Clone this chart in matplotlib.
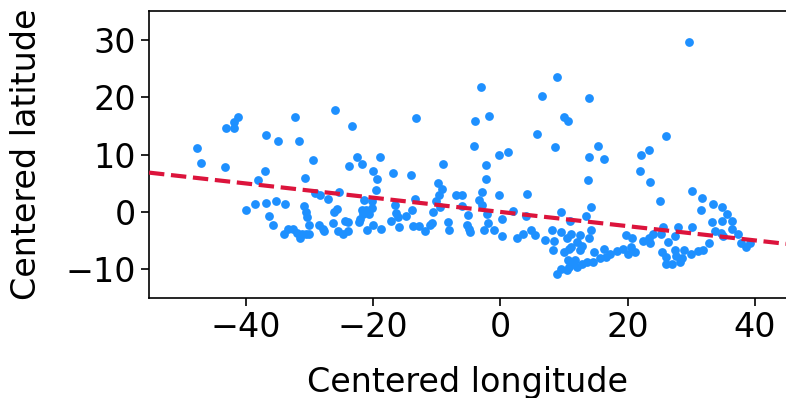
import matplotlib
matplotlib.use("Agg")
import matplotlib.pyplot as plt
import numpy as np

# centred coordinates
lon = [
    -47.6, -47.1, -43.1, -41.8, -41.8, -41.2, -43.2, -36.8, -35.0, -32.2,
    -31.6, -37.0, -38.1, -29.5, -25.9, -30.7, -40.0, -38.5, -36.8, -35.3,
    -33.9, -36.3, -35.7, -30.9, -30.6, -30.3, -30.1, -34.0, -33.3, -32.6,
    -32.0, -31.5, -31.1, -30.6, -30.0, -28.5, -27.7, -27.9, -27.0, -25.4,
    -29.1, -28.3, -26.2, -25.7, -26.3, -25.5,
    -23.3, -13.2, -22.5, -21.8, -23.8, -18.9, -20.0, -19.3, -19.5, -16.8,
    -14.0, -9.0, -9.8, -9.2, -9.6, -10.1, -9.4, -10.5, -13.4, -13.9,
    -7.0, -6.0, -6.0, -8.2, -8.1, -10.8, -11.9, -12.7, -13.7, -14.8,
    -15.9, -16.0, -16.4, -16.5, -17.2, -18.8, -20.0, -20.9, -22.2, -20.1,
    -20.1, -20.7, -21.1, -21.4, -21.8, -21.6, -24.4, -23.9, -24.7, -23.9,
    -11.1, -22.0,
    -4.0, -3.0, -1.7, -4.1, 6.6, 8.9, 5.7, 8.6, -2.2, -2.3,
    -2.8, -0.2, 1.2, -0.2, 4.2, -3.3, -2.8, -5.1, -5.2, -4.9,
    -4.8, -2.1, -1.9, -2.6, -1.0, 0.2, 0.3, 2.0, 4.0, 2.7,
    3.6, 4.9, 5.5, 7.1, 8.2, 8.5, 8.3, 9.5, 9.5, 10.0,
    10.5, 10.8, 10.6, 9.5, 8.9, 10.5, 11.0,
    13.9, 10.0, 10.7, 15.4, 14.0, 16.3, 13.8, 14.3, 13.4, 11.1,
    12.6, 14.0, 14.2, 12.1, 11.1, 12.8, 14.7, 16.3, 19.7, 20.7,
    20.5, 19.3, 18.3, 17.3, 16.6, 15.7, 14.6, 13.7, 12.9, 11.8,
    11.3, 12.1, 10.8, 20.1, 21.2, 22.4, 23.4, 23.6, 24.0, 25.5,
    25.2, 26.3, 25.4, 26.0, 26.0, 27.0, 27.4, 27.4, 21.9, 22.1,
    23.4, 23.5, 26.1, 29.6, 25.1, 12.5, 27.6, 28.5, 28.9, 29.9,
    31.1, 31.9, 28.3, 27.9, 30.1, 30.2, 31.7, 31.6, 33.5, 33.3,
    33.8, 32.8, 34.9, 35.7, 34.9, 36.4, 36.4, 34.7, 35.0, 37.4,
    37.9, 38.6, 39.2,
]
lat = [
    11.2, 8.5, 14.6, 14.6, 15.6, 16.6, 7.8, 13.4, 12.4, 16.5,
    12.3, 7.2, 5.5, 9.0, 17.8, 5.9, 0.3, 1.4, 1.6, 1.9,
    1.3, -0.8, -2.2, 1.0, 0.0, -0.9, -2.2, -3.8, -2.9, -3.0,
    -3.7, -4.5, -3.8, -3.8, -3.8, -2.2, -3.3, -2.9, 2.2, 3.4,
    3.3, 2.9, -0.1, 0.5, -1.9, -3.4,
    15.0, 16.3, 9.6, 8.3, 8.0, 9.5, 7.1, 5.8, 3.8, 6.7,
    6.4, 8.3, 5.0, 4.0, 2.9, 1.9, 0.9, -0.1, 2.2, 0.3,
    2.9, 2.9, 1.1, -1.7, -3.1, -1.9, -3.3, -2.5, -2.5, -0.8,
    -2.6, -0.9, -0.2, 1.2, -1.5, -2.9, -2.3, -3.2, -1.7, 1.9,
    0.6, -0.3, 0.4, 2.0, 0.3, -0.4, -1.5, -1.7, -3.8, -3.4,
    -2.2, -1.2,
    15.8, 21.8, 16.7, 11.4, 20.2, 23.5, 13.6, 11.3, 8.2, 5.8,
    3.4, 9.9, 10.4, 2.9, 3.1, 2.0, 1.2, -0.6, -2.3, -2.9,
    -3.5, -0.3, -1.9, -3.2, -3.1, -1.2, -4.2, 0.2, -0.8, -4.5,
    -3.9, -3.2, -4.1, -4.9, -3.2, -5.1, -6.7, 0.0, -3.5, -7.0,
    -4.5, -6.4, -8.3, -9.9, -10.8, -10.1, -1.5,
    19.8, 16.6, 15.9, 11.4, 9.5, 9.3, 5.5, 0.9, -0.7, -3.8,
    -4.1, -4.6, -3.2, -5.2, -6.2, -6.0, -7.0, -6.4, -4.1, -4.5,
    -6.1, -6.4, -6.8, -7.4, -7.9, -8.1, -8.7, -8.7, -9.0, -8.4,
    -9.0, -9.6, -9.6, -7.4, -6.9, -5.1, -4.6, -5.5, -3.8, -2.6,
    -3.9, -5.2, -7.0, -7.9, -9.1, -9.0, -4.2, -6.7, 7.1, 9.9,
    10.8, 5.2, 13.2, 29.6, 1.9, -6.7, -7.7, -8.1, -6.7, -7.3,
    -6.8, -6.7, -8.7, -2.6, -2.7, 3.7, 2.5, 0.4, 1.3, -1.7,
    -3.3, -5.4, 0.8, -0.4, -1.5, -1.6, -2.9, -3.7, -4.2, -3.9,
    -5.5, -6.2, -5.4,
]

# fitted trend line
fit_slope = -0.124
fit_intercept = 0.0

fig = plt.figure(figsize=(7.86, 3.98), dpi=100)
ax = fig.add_axes([149 / 786, 100 / 398, 637 / 786, 287 / 398])

ax.scatter(lon, lat, s=40, color='dodgerblue', zorder=2, linewidths=0)

xlim = (-55.2, 44.9)
xs = np.array(xlim)
ax.plot(xs, fit_slope * xs + fit_intercept, color='crimson', lw=3,
        ls='--', zorder=3)

ax.set_xlim(*xlim)
ax.set_ylim(-15, 35)
ax.set_xticks([-40, -20, 0, 20, 40])
ax.set_yticks([-10, 0, 10, 20, 30])
ax.tick_params(labelsize=24, length=6, width=1.2)
for side in ['left', 'bottom', 'top']:
    ax.spines[side].set_linewidth(1.2)
ax.spines['right'].set_visible(False)

ax.set_xlabel('Centered longitude', fontsize=24, labelpad=16)
ax.set_ylabel('Centered latitude', fontsize=24, labelpad=16)

fig.savefig('out.png', dpi=100)
plt.close(fig)
